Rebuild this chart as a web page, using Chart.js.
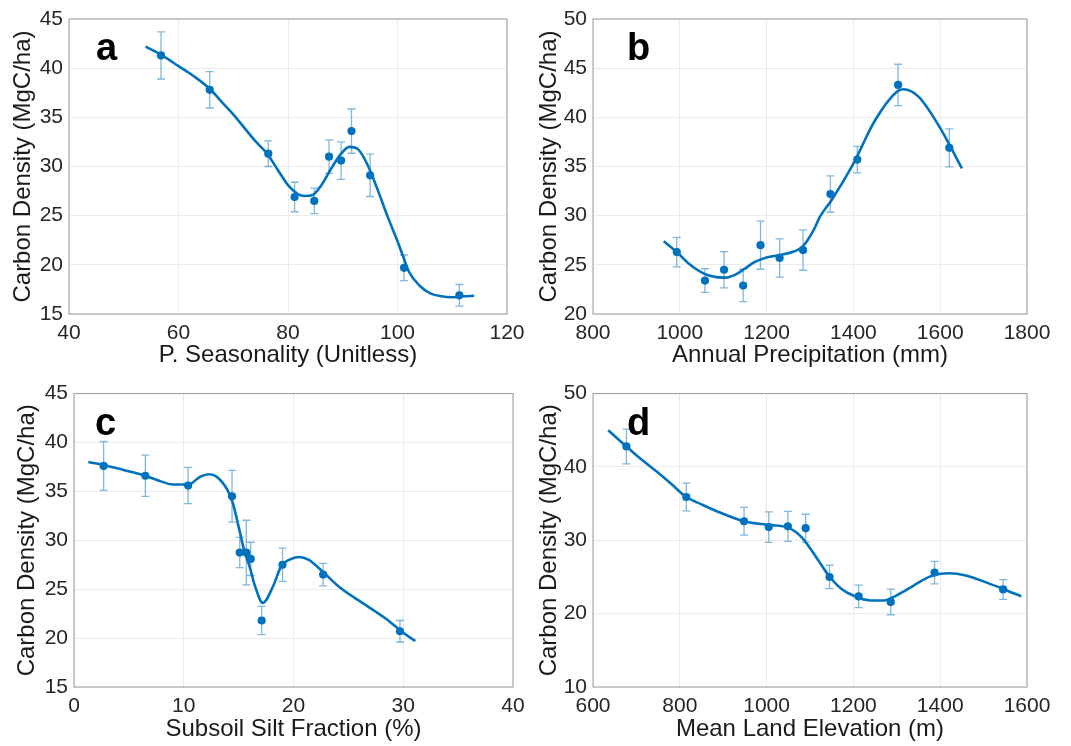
<!DOCTYPE html>
<html>
<head>
<meta charset="utf-8">
<title>Carbon density panels</title>
<script src="https://cdn.jsdelivr.net/npm/chart.js@4.4.1/dist/chart.umd.min.js"></script>
<style>
  html, body { margin: 0; padding: 0; background: #fff; }
  #wrap { position: relative; width: 1071px; height: 746px; overflow: hidden; }
  .panel { position: absolute; }
</style>
</head>
<body>
<div id="wrap">
  <div class="panel" style="left:0;top:0;width:535px;height:375px"><canvas id="chartA"></canvas></div>
  <div class="panel" style="left:535px;top:0;width:536px;height:375px"><canvas id="chartB"></canvas></div>
  <div class="panel" style="left:0;top:375px;width:535px;height:371px"><canvas id="chartC"></canvas></div>
  <div class="panel" style="left:535px;top:375px;width:536px;height:371px"><canvas id="chartD"></canvas></div>
</div>
<script>
// ---- Panel a: P. Seasonality ----
const seasX   = [56.8, 65.7, 76.4, 81.2, 84.8, 87.5, 89.7, 91.6, 95.0, 101.2, 111.3];
const seasY   = [41.3, 37.8, 31.3, 26.9, 26.5, 31.0, 30.6, 33.6, 29.1, 19.7, 16.9];
const seasErr = [2.4, 1.85, 1.3, 1.5, 1.3, 1.7, 1.9, 2.25, 2.15, 1.3, 1.1];
const seasFitX = [54, 57, 60, 63, 65.7, 68, 70, 74, 76.2, 78.2, 80, 81.8, 83, 84.5, 86.1, 87.9, 89.7, 91.2, 92.7, 94.5, 96.4, 98.2, 100, 101.2, 102.1, 104, 106, 108, 110, 112, 114];
const seasFitY = [42.2, 41.3, 40.2, 39.1, 37.9, 36.5, 35.3, 32.6, 31.3, 29.6, 28.1, 27.2, 27.0, 27.1, 28.1, 29.8, 31.3, 32.0, 31.8, 30.2, 27.6, 24.9, 22.4, 20.6, 19.3, 17.9, 17.1, 16.8, 16.7, 16.8, 16.85];
const seasXTicks = [40, 60, 80, 100, 120];
const seasYTicks = [15, 20, 25, 30, 35, 40, 45];

// ---- Panel b: Annual Precipitation ----
const precX   = [993, 1058, 1102, 1146, 1186, 1230, 1284, 1347, 1409, 1503, 1621];
const precY   = [26.3, 23.4, 24.5, 22.9, 27.0, 25.7, 26.5, 32.2, 35.7, 43.3, 36.9];
const precErr = [1.5, 1.2, 1.85, 1.65, 2.45, 1.95, 2.05, 1.85, 1.35, 2.1, 1.93];
const precFitX = [963, 993, 1024, 1058, 1084, 1106, 1128, 1151, 1173, 1200, 1230, 1263, 1284, 1308, 1323, 1350, 1400, 1450, 1500, 1515, 1550, 1600, 1650];
const precFitY = [27.4, 26.3, 25.0, 24.05, 23.75, 23.7, 24.0, 24.65, 25.3, 25.75, 26.0, 26.35, 26.9, 28.5, 29.9, 31.6, 35.3, 39.7, 42.6, 42.85, 42.1, 38.9, 34.8];
const precXTicks = [800, 1000, 1200, 1400, 1600, 1800];
const precYTicks = [20, 25, 30, 35, 40, 45, 50];

// ---- Panel c: Subsoil Silt Fraction ----
const siltX   = [2.7, 6.5, 10.4, 14.4, 15.1, 15.7, 16.1, 17.1, 19.0, 22.7, 29.7];
const siltY   = [37.6, 36.6, 35.6, 34.5, 28.75, 28.75, 28.1, 21.8, 27.5, 26.5, 20.7];
const siltErr = [2.5, 2.1, 1.85, 2.65, 1.55, 3.3, 1.7, 1.45, 1.7, 1.15, 1.1];
const siltFitX = [1.3, 2.7, 4.5, 6.5, 8, 9, 10.4, 11.5, 12.3, 13, 14, 14.5, 15, 15.5, 16, 16.5, 17.2, 18.1, 18.9, 19.6, 20.5, 21.4, 22.7, 24.2, 26, 28.4, 30, 31.1];
const siltFitY = [38.0, 37.7, 37.2, 36.6, 36.0, 35.7, 35.7, 36.5, 36.75, 36.5, 35.1, 33.7, 31.4, 29.0, 27.3, 25.3, 23.6, 25.2, 27.4, 28.0, 28.3, 28.0, 26.75, 25.2, 23.8, 22.0, 20.55, 19.7];
const siltXTicks = [0, 10, 20, 30, 40];
const siltYTicks = [15, 20, 25, 30, 35, 40, 45];

// ---- Panel d: Mean Land Elevation ----
const elevX   = [677, 815, 948, 1005, 1049, 1090, 1145, 1212, 1286, 1387, 1545];
const elevY   = [42.8, 35.9, 32.6, 31.8, 31.9, 31.65, 25.0, 22.35, 21.6, 25.6, 23.3];
const elevErr = [2.37, 1.9, 1.9, 2.07, 2.05, 1.9, 1.6, 1.53, 1.75, 1.53, 1.35];
const elevFitX = [635, 677, 700, 746, 780, 815, 850, 884, 948, 1005, 1051, 1081, 1112, 1143, 1172, 1202, 1240, 1270, 1300, 1338, 1376, 1421, 1459, 1504, 1548, 1587];
const elevFitY = [45.0, 42.8, 41.6, 39.4, 37.7, 35.9, 34.9, 34.0, 32.6, 32.1, 31.7, 30.4, 27.9, 25.2, 23.4, 22.4, 21.8, 21.8, 22.5, 23.8, 25.05, 25.5, 25.2, 24.3, 23.3, 22.35];
const elevXTicks = [600, 800, 1000, 1200, 1400, 1600];
const elevYTicks = [10, 20, 30, 40, 50];

const BLUE = '#0072BD';
const ERR_BLUE = 'rgba(0, 114, 189, 0.5)';
const FONT = "'Liberation Sans', Arial, Helvetica, sans-serif";
const Y_TITLE = 'Carbon Density (MgC/ha)';

function pairs(xs, ys) {
    return xs.map((v, i) => ({ x: v, y: ys[i] }));
}

// error bars drawn through the chart scales
function errorBars(xs, ys, errs) {
    return {
        id: 'errorBars',
        beforeDatasetsDraw(chart) {
            const { ctx, scales: { x, y } } = chart;
            ctx.save();
            ctx.strokeStyle = ERR_BLUE;
            ctx.lineWidth = 1.3;
            xs.forEach((v, i) => {
                const px = x.getPixelForValue(v);
                const top = y.getPixelForValue(ys[i] + errs[i]);
                const bot = y.getPixelForValue(ys[i] - errs[i]);
                ctx.beginPath();
                ctx.moveTo(px, top); ctx.lineTo(px, bot);
                ctx.moveTo(px - 4, top); ctx.lineTo(px + 4, top);
                ctx.moveTo(px - 4, bot); ctx.lineTo(px + 4, bot);
                ctx.stroke();
            });
            ctx.restore();
        }
    };
}

// box around the axes + panel letter
function frame(letter, lx, ly) {
    return {
        id: 'frame',
        afterDatasetsDraw(chart) {
            const { ctx, chartArea: a } = chart;
            ctx.save();
            ctx.strokeStyle = '#9c9c9c';
            ctx.lineWidth = 1;
            ctx.strokeRect(a.left, a.top, a.right - a.left, a.bottom - a.top);
            ctx.fillStyle = '#000';
            ctx.font = "bold 38px " + FONT;
            ctx.textAlign = 'left';
            ctx.textBaseline = 'alphabetic';
            ctx.fillText(letter, lx, a.top + ly);
            ctx.restore();
        }
    };
}

function makePanel(id, d) {
    new Chart(document.getElementById(id), {
        type: 'scatter',
        data: {
            datasets: [{
                data: pairs(d.fitX, d.fitY),
                showLine: true,
                borderColor: BLUE,
                borderWidth: 2.6,
                pointRadius: 0,
                cubicInterpolationMode: 'monotone',
                order: 1
            }, {
                data: pairs(d.x, d.y),
                backgroundColor: BLUE,
                borderWidth: 0,
                pointRadius: 4.1,
                order: 2
            }]
        },
        options: {
            responsive: true,
            maintainAspectRatio: false,
            animation: false,
            layout: { padding: { top: d.top, right: d.right, left: 0, bottom: 0 } },
            scales: {
                x: {
                    type: 'linear',
                    min: d.xTicks[0],
                    max: d.xTicks[d.xTicks.length - 1],
                    afterBuildTicks: s => { s.ticks = d.xTicks.map(v => ({ value: v })); },
                    afterFit: s => { s.height = d.xh; },
                    grid: { color: '#ebebeb', drawTicks: false },
                    border: { display: false },
                    ticks: {
                        color: '#262626', padding: 7, font: { family: FONT, size: 21 },
                        callback: v => String(v)
                    },
                    title: {
                        display: true, text: d.xTitle, color: '#1a1a1a',
                        font: { family: FONT, size: 24 }, padding: { top: 0, bottom: d.xtPad }
                    }
                },
                y: {
                    type: 'linear',
                    min: d.yTicks[0],
                    max: d.yTicks[d.yTicks.length - 1],
                    afterBuildTicks: s => { s.ticks = d.yTicks.map(v => ({ value: v })); },
                    afterFit: s => { s.width = d.yw; },
                    grid: { color: '#ebebeb', drawTicks: false },
                    border: { display: false },
                    ticks: {
                        color: '#262626', padding: 6, font: { family: FONT, size: 21 },
                        callback: v => String(v)
                    },
                    title: {
                        display: true, text: Y_TITLE, color: '#1a1a1a',
                        font: { family: FONT, size: 24 }, padding: { top: d.ytPad, bottom: 0 }
                    }
                }
            },
            plugins: {
                legend: { display: false },
                tooltip: { enabled: false }
            }
        },
        plugins: [errorBars(d.x, d.y, d.err), frame(d.letter, d.lx, 41)]
    });
}

makePanel('chartA', {
    x: seasX, y: seasY, err: seasErr, fitX: seasFitX, fitY: seasFitY,
    xTicks: seasXTicks, yTicks: seasYTicks, xTitle: 'P. Seasonality (Unitless)',
    letter: 'a', lx: 96, top: 19, right: 28, yw: 69, xh: 61, ytPad: 9, xtPad: 5
});
makePanel('chartB', {
    x: precX, y: precY, err: precErr, fitX: precFitX, fitY: precFitY,
    xTicks: precXTicks, yTicks: precYTicks, xTitle: 'Annual Precipitation (mm)',
    letter: 'b', lx: 92, top: 19, right: 44, yw: 58, xh: 61, ytPad: 0, xtPad: 5
});
makePanel('chartC', {
    x: siltX, y: siltY, err: siltErr, fitX: siltFitX, fitY: siltFitY,
    xTicks: siltXTicks, yTicks: siltYTicks, xTitle: 'Subsoil Silt Fraction (%)',
    letter: 'c', lx: 95, top: 15, right: 22, yw: 74, xh: 59, ytPad: 13, xtPad: 2
});
makePanel('chartD', {
    x: elevX, y: elevY, err: elevErr, fitX: elevFitX, fitY: elevFitY,
    xTicks: elevXTicks, yTicks: elevYTicks, xTitle: 'Mean Land Elevation (m)',
    letter: 'd', lx: 92, top: 17, right: 44, yw: 58, xh: 59, ytPad: 0, xtPad: 2
});
</script>
</body>
</html>
